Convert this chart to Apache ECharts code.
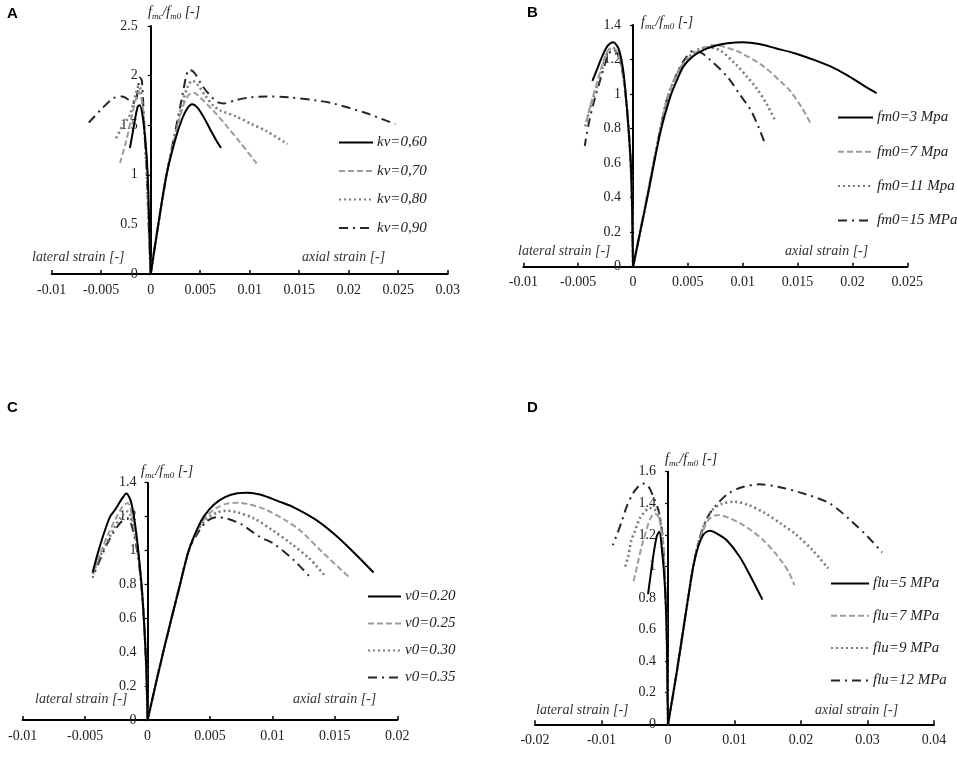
<!DOCTYPE html>
<html>
<head>
<meta charset="utf-8">
<script src="https://cdn.jsdelivr.net/npm/echarts@6/dist/echarts.min.js"></script>
<style>
html,body{margin:0;padding:0;background:#fff;}
#chart{width:957px;height:757px;}
</style>
</head>
<body>
<div id="chart"></div>
<script>
// ---------- Panel A : kv ----------
const aNames = ['kv=0,60', 'kv=0,70', 'kv=0,80', 'kv=0,90'];
const aLat60 = [[0,0],[-0.00015,0.5],[-0.0003,1.0],[-0.0005,1.3],[-0.0008,1.58],[-0.0011,1.7],[-0.0013,1.69],[-0.0016,1.55],[-0.0019,1.38],[-0.0021,1.27]];
const aAx60 = [[0,0],[0.0008,0.52],[0.0016,1.0],[0.0025,1.36],[0.0032,1.57],[0.0037,1.67],[0.0042,1.71],[0.0047,1.68],[0.0053,1.59],[0.006,1.46],[0.0066,1.35],[0.0071,1.27]];
const aLat70 = [[0,0],[-0.0002,0.5],[-0.00035,1.0],[-0.0006,1.45],[-0.0009,1.75],[-0.0012,1.84],[-0.0015,1.76],[-0.002,1.55],[-0.0025,1.33],[-0.0031,1.12]];
const aAx70 = [[0,0],[0.0008,0.52],[0.0016,1.0],[0.0025,1.4],[0.0033,1.7],[0.0038,1.8],[0.0043,1.83],[0.005,1.78],[0.0057,1.71],[0.0063,1.65],[0.0076,1.5],[0.009,1.33],[0.0107,1.115]];
const aLat80 = [[0,0],[-0.0002,0.5],[-0.0004,1.0],[-0.0007,1.55],[-0.001,1.85],[-0.0012,1.9],[-0.0015,1.82],[-0.0021,1.6],[-0.0028,1.5],[-0.0036,1.35]];
const aAx80 = [[0,0],[0.0008,0.52],[0.0016,1.0],[0.0025,1.42],[0.0032,1.72],[0.0037,1.88],[0.0042,1.95],[0.0048,1.9],[0.0055,1.8],[0.0063,1.7],[0.007,1.65],[0.0087,1.585],[0.01,1.52],[0.0117,1.44],[0.0138,1.31]];
const aLat90 = [[0,0],[-0.0002,0.5],[-0.0004,1.0],[-0.0007,1.6],[-0.0009,1.95],[-0.0011,1.98],[-0.0013,1.85],[-0.0016,1.72],[-0.002,1.74],[-0.0029,1.79],[-0.0038,1.77],[-0.005,1.66],[-0.0063,1.52]];
const aAx90 = [[0,0],[0.0008,0.52],[0.0016,1.0],[0.0025,1.45],[0.0032,1.8],[0.0036,2.0],[0.0039,2.06],[0.0044,2.03],[0.0052,1.9],[0.006,1.8],[0.0068,1.73],[0.0074,1.72],[0.0085,1.75],[0.01,1.78],[0.0117,1.79],[0.014,1.78],[0.0167,1.75],[0.0184,1.72],[0.0218,1.62],[0.0247,1.51]];

// ---------- Panel B : fm0 ----------
const bNames = ['fm0=3 Mpa', 'fm0=7 Mpa', 'fm0=11 Mpa', 'fm0=15 MPa'];
const bLat3 = [[0,0],[-0.0001,0.4],[-0.0002,0.6],[-0.0004,0.79],[-0.0006,0.95],[-0.0009,1.14],[-0.0013,1.26],[-0.0018,1.3],[-0.0023,1.28],[-0.0028,1.22],[-0.0033,1.14],[-0.0037,1.076]];
const bAx3 = [[0,0],[0.0013,0.4],[0.0025,0.78],[0.0034,0.985],[0.004,1.08],[0.0046,1.16],[0.0055,1.22],[0.0064,1.255],[0.0075,1.28],[0.0086,1.294],[0.01,1.3],[0.0115,1.29],[0.013,1.265],[0.0148,1.235],[0.0165,1.198],[0.018,1.16],[0.0195,1.11],[0.021,1.05],[0.0222,1.005]];
const bLat7 = [[0,0],[-0.0001,0.4],[-0.0003,0.7],[-0.0006,0.95],[-0.001,1.15],[-0.0014,1.24],[-0.0019,1.27],[-0.0024,1.24],[-0.0029,1.15],[-0.0034,1.04],[-0.0039,0.93],[-0.0043,0.83]];
const bAx7 = [[0,0],[0.0013,0.41],[0.0025,0.8],[0.0031,0.97],[0.0038,1.09],[0.0045,1.17],[0.0055,1.23],[0.0065,1.27],[0.0074,1.284],[0.0085,1.27],[0.0098,1.24],[0.0119,1.16],[0.0135,1.07],[0.0143,1.02],[0.0153,0.93],[0.0162,0.83]];
const bLat11 = [[0,0],[-0.0001,0.4],[-0.0003,0.7],[-0.0006,0.95],[-0.001,1.15],[-0.0014,1.24],[-0.0019,1.27],[-0.0024,1.23],[-0.0029,1.13],[-0.0035,1.0],[-0.004,0.9],[-0.0044,0.8]];
const bAx11 = [[0,0],[0.0013,0.41],[0.0025,0.8],[0.0031,0.97],[0.0038,1.09],[0.0045,1.17],[0.0053,1.23],[0.0062,1.265],[0.007,1.27],[0.008,1.25],[0.0094,1.17],[0.0104,1.1],[0.0113,1.03],[0.0122,0.94],[0.013,0.84]];
const bLat15 = [[0,0],[-0.0001,0.4],[-0.0003,0.7],[-0.0006,0.95],[-0.001,1.14],[-0.0014,1.23],[-0.0018,1.26],[-0.0023,1.22],[-0.0029,1.1],[-0.0035,0.97],[-0.004,0.84],[-0.0044,0.7]];
const bAx15 = [[0,0],[0.0013,0.41],[0.0025,0.8],[0.0031,0.97],[0.0038,1.09],[0.0045,1.18],[0.0055,1.25],[0.0062,1.24],[0.007,1.2],[0.0086,1.1],[0.0097,1.0],[0.0107,0.91],[0.0115,0.8],[0.0121,0.7]];

// ---------- Panel C : v0 ----------
const cNames = ['v0=0.20', 'v0=0.25', 'v0=0.30', 'v0=0.35'];
const cLat20 = [[0,0],[-0.0001,0.3],[-0.0003,0.6],[-0.0005,0.81],[-0.0009,1.1],[-0.0013,1.28],[-0.0017,1.337],[-0.0021,1.3],[-0.0026,1.24],[-0.003,1.2],[-0.0035,1.1],[-0.004,0.98],[-0.0044,0.87]];
const cAx20 = [[0,0],[0.00125,0.4],[0.0026,0.8],[0.0033,1.0],[0.004,1.13],[0.0045,1.2],[0.0053,1.27],[0.0062,1.315],[0.0072,1.338],[0.008,1.341],[0.009,1.33],[0.0105,1.29],[0.0117,1.255],[0.0134,1.185],[0.0149,1.1],[0.0165,0.99],[0.0181,0.87]];
const cLat25 = [[0,0],[-0.0001,0.3],[-0.0003,0.6],[-0.0006,0.9],[-0.0011,1.16],[-0.0016,1.28],[-0.002,1.26],[-0.0026,1.18],[-0.0032,1.09],[-0.0038,0.98],[-0.0044,0.86]];
const cAx25 = [[0,0],[0.00125,0.4],[0.0026,0.8],[0.0033,1.0],[0.004,1.12],[0.0047,1.2],[0.0055,1.25],[0.0063,1.275],[0.0071,1.282],[0.008,1.275],[0.0095,1.24],[0.011,1.18],[0.0122,1.12],[0.014,0.99],[0.0161,0.846]];
const cLat30 = [[0,0],[-0.0001,0.3],[-0.0003,0.6],[-0.0006,0.88],[-0.0011,1.13],[-0.0016,1.23],[-0.0021,1.2],[-0.0027,1.13],[-0.0033,1.04],[-0.0039,0.95],[-0.0044,0.86]];
const cAx30 = [[0,0],[0.00125,0.4],[0.0026,0.8],[0.0033,1.0],[0.004,1.12],[0.0048,1.19],[0.0056,1.225],[0.0063,1.235],[0.0072,1.225],[0.0085,1.19],[0.01,1.12],[0.0115,1.04],[0.013,0.95],[0.0142,0.851]];
const cLat35 = [[0,0],[-0.0001,0.3],[-0.0003,0.6],[-0.0006,0.87],[-0.0011,1.1],[-0.0016,1.19],[-0.0021,1.17],[-0.0027,1.11],[-0.0033,1.03],[-0.0039,0.93],[-0.0044,0.84]];
const cAx35 = [[0,0],[0.00125,0.4],[0.0026,0.8],[0.0033,1.0],[0.004,1.1],[0.0047,1.17],[0.0055,1.196],[0.0063,1.19],[0.0075,1.155],[0.009,1.08],[0.0101,1.04],[0.0117,0.944],[0.0131,0.836]];

// ---------- Panel D : flu ----------
const dNames = ['flu=5 MPa', 'flu=7 MPa', 'flu=9 MPa', 'flu=12 MPa'];
const dLat5 = [[0,0],[-0.0001,0.3],[-0.0002,0.6],[-0.0005,0.9],[-0.0009,1.1],[-0.0013,1.22],[-0.0017,1.19],[-0.0022,1.07],[-0.0026,0.95],[-0.003,0.825]];
const dAx5 = [[0,0],[0.0012,0.3],[0.0023,0.6],[0.0031,0.82],[0.0038,1.0],[0.0045,1.12],[0.0053,1.2],[0.0063,1.226],[0.0073,1.21],[0.0088,1.167],[0.0108,1.06],[0.0125,0.93],[0.0142,0.79]];
const dLat7 = [[0,0],[-0.0001,0.3],[-0.0002,0.6],[-0.0005,0.95],[-0.0009,1.2],[-0.0014,1.31],[-0.002,1.336],[-0.0027,1.3],[-0.0033,1.22],[-0.004,1.12],[-0.0046,1.01],[-0.0052,0.9]];
const dAx7 = [[0,0],[0.0012,0.3],[0.0023,0.6],[0.0031,0.82],[0.0038,1.0],[0.0045,1.13],[0.0053,1.23],[0.0062,1.3],[0.0075,1.326],[0.009,1.31],[0.011,1.27],[0.0128,1.22],[0.0143,1.167],[0.016,1.09],[0.0173,1.02],[0.0182,0.96],[0.019,0.882]];
const dLat9 = [[0,0],[-0.0001,0.3],[-0.0002,0.6],[-0.0005,0.95],[-0.0009,1.22],[-0.0014,1.33],[-0.002,1.36],[-0.0028,1.37],[-0.0036,1.34],[-0.0043,1.3],[-0.005,1.22],[-0.0055,1.167],[-0.006,1.06],[-0.0065,0.99]];
const dAx9 = [[0,0],[0.0012,0.3],[0.0023,0.6],[0.0031,0.82],[0.0038,1.0],[0.0045,1.14],[0.0055,1.27],[0.0065,1.35],[0.008,1.395],[0.01,1.41],[0.012,1.39],[0.0145,1.34],[0.017,1.27],[0.0193,1.2],[0.0218,1.1],[0.0241,0.988]];
const dLat12 = [[0,0],[-0.0001,0.3],[-0.0002,0.6],[-0.0005,0.95],[-0.0009,1.22],[-0.0014,1.35],[-0.0023,1.45],[-0.003,1.51],[-0.0038,1.526],[-0.0046,1.5],[-0.0053,1.46],[-0.0062,1.38],[-0.007,1.28],[-0.0077,1.2],[-0.0083,1.135]];
const dAx12 = [[0,0],[0.0012,0.3],[0.0023,0.6],[0.0031,0.82],[0.0038,1.0],[0.0045,1.14],[0.0055,1.27],[0.0063,1.336],[0.0075,1.4],[0.009,1.46],[0.011,1.5],[0.0138,1.52],[0.017,1.5],[0.0205,1.46],[0.0243,1.4],[0.0275,1.29],[0.03,1.19],[0.0322,1.089]];

// ---------- Axis ranges / ticks ----------
const xRanges = [[-0.01, 0.03, 0.005], [-0.01, 0.025, 0.005], [-0.01, 0.02, 0.005], [-0.02, 0.04, 0.01]];
const yRanges = [[0, 2.5, 0.5], [0, 1.4, 0.2], [0, 1.4, 0.2], [0, 1.6, 0.2]];
const panelLetters = ['A', 'B', 'C', 'D'];

// ---------- layout & styles (not data) ----------
const grids = [
  {left: 51.7, top: 26, width: 396, height: 248},
  {left: 523.3, top: 25, width: 384, height: 241.7},
  {left: 22.7, top: 482.7, width: 374.6, height: 237.3},
  {left: 535, top: 471.7, width: 399, height: 252.6}
];
const lineStyles = [
  {color: '#000000', type: 'solid', width: 2},
  {color: '#9c9c9c', type: [6, 3], width: 2},
  {color: '#7b7b7b', type: [2, 3], width: 2.6},
  {color: '#262626', type: [9, 5, 2, 5], width: 2}
];
const serif = '"Liberation Serif", "DejaVu Serif", serif';

const panels = [
  {names: aNames, lat: [aLat60, aLat70, aLat80, aLat90], ax: [aAx60, aAx70, aAx80, aAx90]},
  {names: bNames, lat: [bLat3, bLat7, bLat11, bLat15], ax: [bAx3, bAx7, bAx11, bAx15]},
  {names: cNames, lat: [cLat20, cLat25, cLat30, cLat35], ax: [cAx20, cAx25, cAx30, cAx35]},
  {names: dNames, lat: [dLat5, dLat7, dLat9, dLat12], ax: [dAx5, dAx7, dAx9, dAx12]}
];

const xAxes = [], yAxes = [], series = [];
xRanges.forEach((r, i) => {
  xAxes.push({
    type: 'value', gridIndex: i, min: r[0], max: r[1], interval: r[2],
    splitLine: {show: false},
    axisLine: {show: true, onZero: false, lineStyle: {color: '#000', width: 2}},
    axisTick: {show: true, inside: true, length: 4, lineStyle: {color: '#000', width: 1.5}},
    axisLabel: {color: '#222', fontFamily: serif, fontSize: 14, margin: 9}
  });
});
const yLabelMargins = [13, 12, 11, 12];
yRanges.forEach((r, i) => {
  // shift the y axis so it sits on x = 0 of its panel
  const xr = xRanges[i];
  const zeroOffset = grids[i].width * (0 - xr[0]) / (xr[1] - xr[0]);
  yAxes.push({
    type: 'value', gridIndex: i, min: r[0], max: r[1], interval: r[2],
    position: 'left', offset: -zeroOffset,
    splitLine: {show: false},
    axisLine: {show: true, onZero: false, lineStyle: {color: '#000', width: 2}},
    axisTick: {show: true, inside: false, length: 3, lineStyle: {color: '#000', width: 1.2}},
    axisLabel: {color: '#222', fontFamily: serif, fontSize: 14, margin: yLabelMargins[i]}
  });
});
panels.forEach((p, gi) => {
  p.names.forEach((nm, k) => {
    [p.lat[k], p.ax[k]].forEach(d => {
      series.push({
        type: 'line', name: nm, xAxisIndex: gi, yAxisIndex: gi,
        data: d, symbol: 'none', smooth: 0.3, z: 3 + (3 - k),
        lineStyle: Object.assign({}, lineStyles[k]),
        itemStyle: {color: lineStyles[k].color}
      });
    });
  });
});

const legendPos = [
  {left: 338, top: 135, gap: 13.5, w: 34},
  {left: 837, top: 110, gap: 19.3, w: 35},
  {left: 367, top: 589, gap: 12, w: 33},
  {left: 830, top: 576, gap: 17.3, w: 38}
];
const legends = panels.map((p, i) => ({
  data: p.names, orient: 'vertical', left: legendPos[i].left, top: legendPos[i].top,
  padding: 0,
  itemWidth: legendPos[i].w, itemHeight: 14, itemGap: legendPos[i].gap,
  selectedMode: false,
  itemStyle: {opacity: 0, borderWidth: 0},
  textStyle: {fontFamily: serif, fontStyle: 'italic', fontSize: 15, color: '#222', padding: [0, 0, 0, -1]}
}));

const richName = {
  i: {fontFamily: serif, fontStyle: 'italic', fontSize: 14, fill: '#222', color: '#222', lineHeight: 18, verticalAlign: 'middle'},
  s: {fontFamily: serif, fontStyle: 'italic', fontSize: 9, fill: '#222', color: '#222', lineHeight: 10, verticalAlign: 'bottom'}
};
const yNamePos = [[148, 5], [641, 15], [141, 464], [665, 452]];
const latPos = [[32, 250], [518, 244], [35, 692], [536, 703]];
const axPos = [[302, 250], [785, 244], [293, 692], [815, 703]];
const letterPos = [[7, 6], [527, 5], [7, 400], [527, 400]];

const graphics = [];
for (let i = 0; i < 4; i++) {
  graphics.push({type: 'text', left: letterPos[i][0], top: letterPos[i][1],
    style: {text: panelLetters[i], font: 'bold 15px "Liberation Sans", Arial, sans-serif', fill: '#000'}});
  graphics.push({type: 'text', left: yNamePos[i][0], top: yNamePos[i][1],
    style: {text: '{i|f}{s|mc}{i|/f}{s|m0}{i| [-]}', rich: richName}});
  graphics.push({type: 'text', left: latPos[i][0], top: latPos[i][1],
    style: {text: 'lateral strain [-]', font: 'italic 14px ' + serif, fill: '#333'}});
  graphics.push({type: 'text', left: axPos[i][0], top: axPos[i][1],
    style: {text: 'axial strain [-]', font: 'italic 14px ' + serif, fill: '#333'}});
}

const chart = echarts.init(document.getElementById('chart'), null, {renderer: 'canvas'});
chart.setOption({
  animation: false,
  backgroundColor: '#ffffff',
  grid: grids.map(g => Object.assign({containLabel: false}, g)),
  xAxis: xAxes,
  yAxis: yAxes,
  legend: legends,
  series: series,
  graphic: graphics
});
</script>
</body>
</html>
